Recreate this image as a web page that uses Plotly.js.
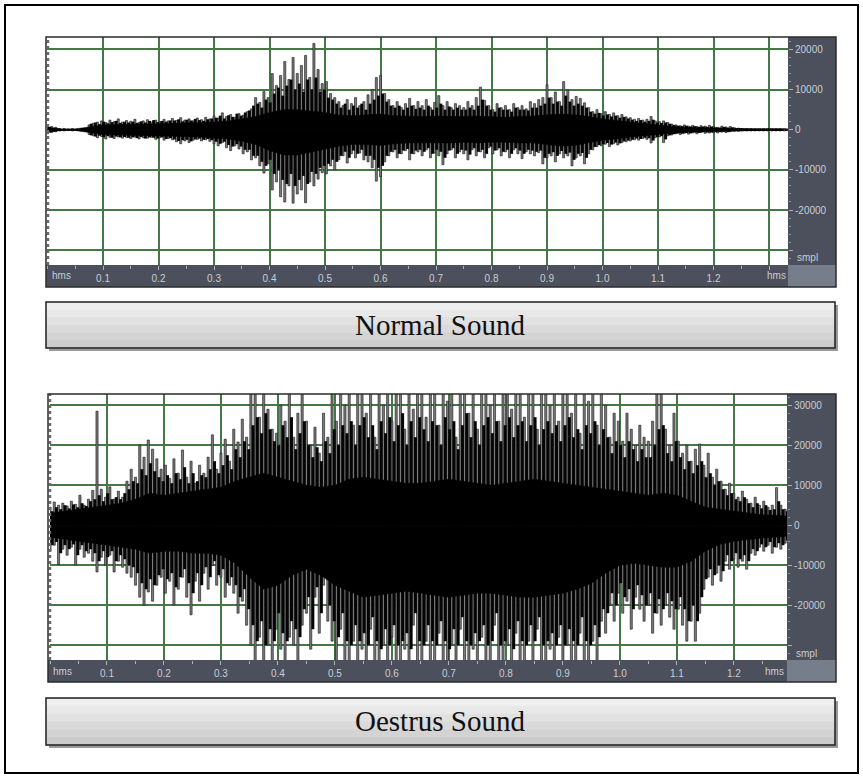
<!DOCTYPE html>
<html>
<head>
<meta charset="utf-8">
<script src="https://cdn.plot.ly/plotly-3.0.1.min.js"></script>
<style>html,body{margin:0;padding:0;background:#fff;}#chart{width:863px;height:778px;}</style>
</head>
<body>
<div id="chart"></div>
<script>
// ---------- DATA (amplitudes in thousands of sample units) ----------
// Normal sound: outer peak spikes every 0.0075 s, inner (dark) spikes in between, dense body every 0.025 s
const normalSpikeStep = 0.0075;
const normalSpikeHi = [
 1.0,0.8,0.6,0.3,0.3,0.2,0.3,0.2,0.3,0.3,
 1.2,1.6,1.9,2.2,1.8,2.4,2.0,2.7,1.9,2.3,
 2.1,2.6,1.8,2.2,2.5,1.9,2.4,2.0,2.6,2.2,
 2.8,2.3,3.0,2.4,2.7,2.2,2.9,2.5,3.1,2.7,
 3.4,2.9,4.2,3.3,3.8,3.1,4.0,3.6,4.5,5.2,
 8.0,6.8,9.5,8.0,14.0,11.0,13.5,17.0,12.5,18.0,
 14.0,16.0,18.5,13.0,21.5,15.0,11.5,12.0,9.0,8.0,
 7.0,6.0,7.5,6.5,8.0,6.0,7.0,8.7,10.0,13.0,
 13.5,9.0,7.5,6.0,7.0,5.5,6.5,7.8,6.0,7.0,
 6.0,7.5,5.5,6.8,8.5,6.0,7.0,5.5,6.5,6.0,
 5.5,7.0,6.0,8.0,10.6,7.3,6.0,5.0,6.5,5.5,
 6.0,5.0,6.5,5.5,6.0,5.2,7.0,6.5,7.5,8.0,
 11.2,8.0,9.4,7.0,12.0,9.9,7.5,8.3,7.8,6.7,
 5.5,4.5,5.0,4.0,4.5,3.8,4.2,3.5,3.8,3.2,
 3.0,2.6,2.8,2.4,2.6,3.3,2.2,2.0,2.2,1.8,
 1.4,1.2,1.0,1.2,0.9,1.1,0.8,1.0,0.9,1.1,
 0.8,0.6,0.9,0.7,0.8,0.5,0.4,0.3,0.3,0.3,
 0.3,0.3,0.3,0.3,0.3,0.3,0.3,0.3
];
const normalSpikeLo = [
 -1.0,-0.7,-0.5,-0.3,-0.3,-0.2,-0.3,-0.2,-0.3,-0.3,
 -1.2,-1.5,-2.0,-1.7,-2.3,-1.9,-2.2,-1.8,-2.1,-1.9,
 -2.2,-1.8,-2.3,-2.0,-2.1,-1.9,-2.4,-2.0,-2.6,-2.2,
 -2.5,-3.0,-3.5,-2.8,-3.2,-2.6,-2.4,-2.8,-2.5,-2.9,
 -3.5,-4.0,-3.2,-4.5,-5.2,-4.0,-4.8,-6.0,-5.5,-7.5,
 -7.0,-9.0,-10.8,-8.5,-15.0,-13.0,-16.7,-18.0,-14.0,-18.3,
 -16.0,-15.0,-18.2,-13.0,-14.0,-12.3,-10.7,-11.0,-9.0,-10.0,
 -7.5,-6.5,-8.3,-6.0,-7.0,-5.8,-7.5,-8.0,-9.5,-12.8,
 -11.7,-8.0,-6.5,-5.5,-7.0,-6.0,-5.2,-7.5,-6.0,-5.5,
 -6.5,-5.0,-7.0,-5.8,-6.5,-8.7,-6.0,-5.0,-7.0,-5.5,
 -6.0,-7.5,-5.0,-6.5,-5.5,-7.0,-4.5,-6.0,-5.0,-6.5,
 -5.5,-7.0,-5.0,-6.0,-7.2,-5.5,-6.0,-6.5,-5.7,-8.5,
 -7.0,-6.5,-8.0,-6.0,-7.0,-6.5,-9.0,-7.0,-6.5,-8.5,
 -6.0,-5.0,-4.2,-4.0,-3.6,-4.2,-3.5,-3.8,-3.2,-3.0,
 -2.8,-2.5,-2.6,-2.2,-2.4,-3.3,-2.0,-1.8,-3.2,-1.5,
 -1.3,-1.0,-1.2,-0.9,-1.1,-0.8,-1.0,-0.7,-0.9,-0.8,
 -0.7,-0.8,-0.6,-0.7,-0.5,-0.4,-0.4,-0.3,-0.3,-0.3,
 -0.3,-0.3,-0.3,-0.3,-0.3,-0.3,-0.3,-0.3
];
const normalInnerHi = [
 0.7,0.5,0.3,0.2,0.2,0.2,0.2,0.2,0.2,0.5,
 1.5,1.8,1.4,2.0,1.6,1.9,2.2,1.7,2.0,1.8,
 2.0,1.7,2.1,1.8,2.2,2.4,1.9,2.2,2.0,2.3,
 2.3,2.6,2.1,2.5,2.3,2.7,2.4,2.2,2.6,2.8,
 3.0,3.5,2.8,3.6,3.2,4.0,3.5,4.3,4.8,6.0,
 6.5,5.5,7.5,6.8,9.0,10.5,8.5,11.0,12.5,10.0,
 11.5,9.5,12.5,10.0,13.0,9.5,10.0,8.0,7.5,6.5,
 5.5,6.5,5.0,6.0,5.5,6.5,5.0,6.5,7.5,8.5,
 9.0,7.0,6.0,5.5,6.0,5.0,5.5,6.0,5.2,5.5,
 5.0,6.0,5.0,5.5,6.5,5.0,5.8,5.0,5.5,5.0,
 5.0,5.5,5.0,6.0,7.5,6.0,5.0,4.5,5.5,5.0,
 5.0,4.5,5.5,5.0,5.0,4.8,5.5,5.5,6.0,6.5,
 8.0,6.5,7.0,6.0,8.5,7.0,6.0,6.5,6.0,5.5,
 4.5,4.0,4.2,3.5,3.8,3.3,3.5,3.0,3.2,2.8,
 2.5,2.2,2.4,2.0,2.2,2.5,1.8,1.7,1.8,1.5,
 1.2,1.0,0.9,1.0,0.8,0.9,0.7,0.8,0.7,0.8,
 0.6,0.5,0.7,0.5,0.6,0.4,0.35,0.3,0.3,0.3,
 0.3,0.3,0.3,0.3,0.3,0.3,0.3,0.3
];
const normalInnerLo = [
 -0.7,-0.5,-0.3,-0.2,-0.2,-0.2,-0.2,-0.2,-0.2,-0.5,
 -1.4,-1.7,-1.5,-1.9,-1.6,-2.0,-1.7,-1.9,-1.8,-2.0,
 -1.9,-2.1,-1.8,-2.2,-1.9,-2.0,-2.2,-1.9,-2.3,-2.1,
 -2.4,-2.8,-2.6,-2.5,-2.9,-2.4,-2.2,-2.5,-2.3,-2.6,
 -3.0,-3.5,-3.0,-3.8,-4.2,-3.6,-4.2,-5.0,-5.0,-6.5,
 -6.5,-8.0,-9.0,-7.5,-11.0,-10.0,-12.5,-13.5,-11.0,-14.0,
 -12.5,-11.5,-13.5,-10.5,-11.0,-9.5,-9.0,-8.5,-7.5,-8.0,
 -6.5,-5.5,-7.0,-5.2,-6.0,-5.0,-6.5,-6.5,-7.5,-9.5,
 -9.0,-6.5,-5.5,-5.0,-6.0,-5.2,-4.8,-6.0,-5.2,-5.0,
 -5.5,-4.6,-6.0,-5.0,-5.5,-7.0,-5.2,-4.6,-6.0,-5.0,
 -5.2,-6.2,-4.6,-5.5,-5.0,-6.0,-4.2,-5.2,-4.6,-5.5,
 -5.0,-6.0,-4.6,-5.2,-6.0,-5.0,-5.2,-5.5,-5.2,-7.0,
 -6.0,-5.6,-6.5,-5.3,-6.0,-5.7,-7.5,-6.0,-5.8,-7.0,
 -5.0,-4.3,-3.8,-3.6,-3.3,-3.7,-3.2,-3.4,-2.9,-2.7,
 -2.5,-2.2,-2.3,-2.0,-2.1,-2.7,-1.8,-1.6,-2.4,-1.4,
 -1.1,-0.9,-1.0,-0.8,-0.9,-0.7,-0.8,-0.6,-0.7,-0.7,
 -0.6,-0.6,-0.5,-0.6,-0.4,-0.35,-0.35,-0.3,-0.3,-0.3,
 -0.3,-0.3,-0.3,-0.3,-0.3,-0.3,-0.3,-0.3
];
const normalBodyStep = 0.025;
const normalBodyHi = [
 0.6,0.2,0.2,0.7,1.2,1.3,1.3,1.4,1.5,1.6,
 1.7,1.7,1.9,2.2,2.7,3.3,4.3,5.0,5.0,4.7,
 4.3,3.6,3.5,3.7,3.9,3.5,3.4,3.3,3.4,3.3,
 3.3,3.4,3.3,3.1,3.3,3.4,3.7,3.9,3.7,3.3,
 2.7,2.3,1.9,1.6,1.2,0.8,0.6,0.5,0.4,0.3,
 0.25,0.2,0.2,0.2
];
const normalBodyLo = [
 -0.6,-0.2,-0.2,-0.7,-1.2,-1.3,-1.4,-1.5,-1.5,-1.7,
 -1.8,-1.8,-2.1,-2.3,-2.9,-3.7,-5.2,-6.3,-6.3,-5.6,
 -4.8,-4.1,-3.7,-3.7,-3.9,-3.5,-3.3,-3.3,-3.4,-3.3,
 -3.1,-3.3,-3.1,-3.1,-3.3,-3.3,-3.7,-4.1,-3.9,-3.3,
 -2.6,-2.3,-1.8,-1.5,-1.2,-0.8,-0.6,-0.5,-0.4,-0.3,
 -0.25,-0.2,-0.2,-0.2
];

// Oestrus sound
const oestrusSpikeStep = 0.0075;
const oestrusSpikeHi = [
 4.5,5.8,5.0,5.5,4.8,6.0,5.2,7.5,5.0,6.5,
 8.7,28.5,9.0,7.0,9.6,6.5,8.5,7.0,11.0,14.0,
 12.0,20.0,17.0,21.3,19.0,16.6,14.0,15.0,11.7,16.6,
 13.0,18.8,12.0,16.0,10.5,15.0,13.0,17.0,22.6,14.0,
 18.0,21.5,16.0,24.0,20.8,26.5,22.0,34,34,27.0,
 34,29.0,24.0,23.0,30.0,26.0,34,22.0,28.0,34,
 26.0,20.0,24.5,18.0,28.0,22.0,34,26.0,34,30.0,
 34,25.0,34,34,28.0,34,22.0,34,30.0,34,
 26.0,34,34,24.0,34,29.0,34,34,27.0,34,
 34,25.0,34,31.0,34,22.0,34,34,28.0,34,
 24.0,34,34,30.0,34,26.0,34,34,29.0,34,
 34,27.0,34,34,24.0,34,34,30.0,34,26.0,
 34,34,28.0,34,23.0,34,31.0,34,25.0,34,
 30.0,22.0,28.0,26.0,21.0,28.0,24.0,20.0,25.0,22.0,
 21.0,26.0,34,34,24.0,20.0,28.0,21.0,18.0,20.0,
 16.0,19.0,20.3,15.0,18.0,12.0,14.0,11.0,9.0,10.5,
 8.0,7.0,8.5,6.5,5.5,7.0,5.0,6.0,4.5,5.0,
 9.4,5.0,4.0
];
const oestrusSpikeLo = [
 -6.5,-5.0,-9.8,-6.0,-7.5,-5.5,-10.0,-6.0,-8.0,-7.0,
 -9.0,-11.7,-8.0,-10.0,-7.5,-11.7,-9.0,-10.5,-12.0,-13.0,
 -15.0,-18.0,-20.0,-16.7,-19.0,-15.0,-13.0,-17.0,-14.0,-20.0,
 -16.0,-13.0,-18.0,-22.4,-14.0,-19.0,-12.0,-16.0,-10.0,-15.0,
 -13.0,-18.0,-15.0,-17.0,-22.0,-19.0,-25.0,-30.0,-34,-28.0,
 -34,-30.0,-34,-26.0,-31.0,-34,-28.0,-30.0,-34,-25.0,
 -22.0,-31.0,-18.0,-27.0,-15.0,-24.0,-29.0,-34,-26.0,-34,
 -34,-29.0,-34,-31.0,-34,-26.0,-34,-34,-30.0,-34,
 -28.0,-34,-34,-31.0,-34,-25.0,-34,-34,-29.0,-34,
 -34,-27.0,-34,-34,-30.0,-34,-26.0,-34,-34,-31.0,
 -34,-28.0,-34,-34,-25.0,-34,-34,-30.0,-34,-27.0,
 -34,-34,-29.0,-34,-26.0,-34,-34,-31.0,-34,-28.0,
 -34,-30.0,-34,-34,-27.0,-34,-34,-29.0,-34,-24.0,
 -27.0,-20.0,-24.0,-17.0,-22.0,-19.0,-26.0,-18.0,-21.0,-24.0,
 -20.0,-27.0,-22.0,-25.0,-20.0,-23.0,-26.0,-21.0,-25.0,-29.0,
 -24.0,-29.0,-22.0,-16.0,-13.0,-15.0,-12.0,-14.0,-9.0,-11.0,
 -8.5,-10.5,-9.0,-11.0,-7.0,-7.5,-5.5,-6.5,-5.0,-7.0,
 -5.5,-6.0,-4.5
];
const oestrusInnerHi = [
 3.5,4.5,4.0,5.0,4.2,5.2,4.5,5.5,4.8,6.0,
 6.5,7.5,6.0,8.0,6.5,7.0,6.5,8.0,9.0,11.0,
 10.5,14.0,12.5,15.5,13.5,12.0,11.0,12.5,10.5,13.0,
 11.5,14.5,10.5,13.0,11.0,12.5,12.0,14.0,16.0,13.0,
 15.0,17.5,14.0,19.0,17.0,21.0,19.0,25.0,27.0,23.0,
 28.0,24.0,21.0,20.0,25.0,22.0,27.0,19.0,23.0,26.0,
 20.0,17.0,19.5,16.0,21.0,18.0,24.0,20.0,25.0,23.0,
 26.0,20.0,25.0,27.0,22.0,25.0,19.0,26.0,23.0,27.0,
 21.0,25.0,28.0,20.0,26.0,22.0,27.0,24.0,21.0,26.0,
 25.0,20.0,27.0,24.0,26.0,19.0,25.0,28.0,22.0,26.0,
 20.0,25.0,27.0,23.0,26.0,21.0,25.0,27.0,22.0,25.0,
 26.0,21.0,25.0,27.0,20.0,24.0,26.0,23.0,25.0,21.0,
 25.0,27.0,22.0,24.0,19.0,25.0,23.0,26.0,20.0,24.0,
 22.0,18.0,21.0,20.0,17.0,21.0,19.0,16.0,19.0,17.0,
 17.0,20.0,24.0,25.0,18.0,16.0,21.0,17.0,14.0,16.0,
 13.0,15.0,16.0,12.0,13.0,10.0,11.0,9.0,7.5,8.0,
 6.5,6.0,7.0,5.5,4.5,5.5,4.2,5.0,3.8,4.0,
 6.0,4.0,3.5
];
const oestrusInnerLo = [
 -5.0,-4.2,-7.0,-5.0,-6.0,-4.8,-7.5,-5.0,-6.5,-6.0,
 -7.0,-9.0,-6.5,-8.0,-6.5,-9.0,-7.5,-8.5,-10.0,-10.5,
 -12.0,-14.5,-16.0,-13.5,-15.0,-12.5,-11.0,-13.5,-12.0,-15.5,
 -13.0,-11.0,-14.5,-17.0,-12.0,-15.0,-10.5,-13.0,-9.0,-12.5,
 -11.0,-14.5,-13.0,-15.0,-18.0,-16.0,-21.0,-25.0,-29.0,-24.0,
 -30.0,-26.0,-29.0,-22.0,-27.0,-29.0,-24.0,-26.0,-28.0,-21.0,
 -18.0,-26.0,-15.5,-22.0,-13.0,-20.0,-24.0,-28.0,-22.0,-29.0,
 -30.0,-25.0,-29.0,-27.0,-30.0,-23.0,-29.0,-31.0,-26.0,-30.0,
 -25.0,-30.0,-29.0,-27.0,-31.0,-22.0,-29.0,-30.0,-25.0,-29.0,
 -30.0,-24.0,-29.0,-31.0,-26.0,-30.0,-23.0,-29.0,-30.0,-27.0,
 -29.0,-25.0,-30.0,-29.0,-22.0,-30.0,-29.0,-26.0,-31.0,-24.0,
 -29.0,-30.0,-25.0,-29.0,-23.0,-30.0,-29.0,-27.0,-30.0,-25.0,
 -30.0,-26.0,-29.0,-30.0,-23.0,-29.0,-30.0,-25.0,-28.0,-21.0,
 -22.0,-17.0,-20.0,-14.5,-18.0,-16.0,-21.0,-15.0,-17.5,-20.0,
 -17.0,-22.0,-18.5,-21.0,-17.0,-19.0,-21.0,-18.0,-21.0,-24.0,
 -20.0,-24.0,-18.0,-13.5,-11.0,-12.5,-10.0,-11.5,-7.5,-9.0,
 -7.0,-8.5,-7.5,-9.0,-6.0,-6.5,-4.8,-5.5,-4.2,-5.5,
 -4.5,-5.0,-3.8
];
const oestrusBodyStep = 0.025;
const oestrusBodyHi = [
 3.0,3.5,4.0,4.5,5.0,5.5,6.5,8.0,7.5,8.0,
 8.5,9.0,9.5,11.0,12.0,13.0,12.0,11.0,10.0,9.5,
 10.0,11.5,12.0,11.5,11.0,10.5,10.5,11.0,11.5,11.0,
 10.5,10.0,10.5,11.0,11.5,11.0,10.5,10.0,9.5,9.0,
 8.5,8.0,7.5,8.0,7.5,6.0,4.5,4.0,3.5,3.0,
 2.6,2.5,2.2
];
const oestrusBodyLo = [
 -3.0,-3.5,-4.0,-4.5,-5.0,-5.5,-6.0,-7.0,-6.5,-6.5,
 -7.0,-7.0,-7.5,-9.5,-13.0,-16.0,-15.0,-12.5,-11.0,-12.5,
 -15.0,-16.5,-18.0,-17.5,-17.0,-16.5,-17.0,-17.5,-18.0,-17.5,
 -17.0,-17.0,-17.5,-18.0,-18.0,-17.5,-17.0,-16.0,-14.5,-12.0,
 -10.0,-9.5,-10.0,-10.5,-10.5,-9.0,-6.5,-4.8,-4.0,-3.6,
 -3.2,-3.0,-2.6
];

// Tick labels
const timeTicks = [0.1,0.2,0.3,0.4,0.5,0.6,0.7,0.8,0.9,1.0,1.1,1.2];
const timeTickText = ['0.1','0.2','0.3','0.4','0.5','0.6','0.7','0.8','0.9','1.0','1.1','1.2'];
const ampTicks = [-30,-20,-10,0,10,20,30];
const ampTickText = ['','-20000','-10000','0','10000','20000','30000'];
const panelTitles = ['Normal Sound','Oestrus Sound'];

// ---------- STYLE / LAYOUT ----------
const W = 863, H = 778;
const PX = x => x / W;
const PY = y => 1 - y / H;
const strip = '#4b505c', corner = '#767d8b', labelCol = '#c9cdd4';
const gridCol = '#467746';

function waveTraces(xa, ya, sStep, sHi, sLo, iHi, iLo, bStep, bHi, bLo) {
  const spikeStyle = {color:'#7a7a7a', line:{color:'#161616', width:0.6}};
  const innerStyle = {color:'#050505', line:{width:0}};
  const common = {xaxis:xa, yaxis:ya, hoverinfo:'skip', showlegend:false};
  return [
    Object.assign({type:'bar', x0:0, dx:sStep, y:sHi, width:sStep*0.5, marker:spikeStyle}, common),
    Object.assign({type:'bar', x0:0, dx:sStep, y:sLo, width:sStep*0.5, marker:spikeStyle}, common),
    Object.assign({type:'bar', x0:sStep/2, dx:sStep, y:iHi, width:sStep*0.7, marker:innerStyle}, common),
    Object.assign({type:'bar', x0:sStep/2, dx:sStep, y:iLo, width:sStep*0.7, marker:innerStyle}, common),
    Object.assign({type:'scatter', mode:'lines', x0:0, dx:bStep, y:bHi, fill:'tozeroy', fillcolor:'#000', line:{color:'#000', width:0.5}}, common),
    Object.assign({type:'scatter', mode:'lines', x0:0, dx:bStep, y:bLo, fill:'tozeroy', fillcolor:'#000', line:{color:'#000', width:0.5}}, common)
  ];
}

const data = [].concat(
  waveTraces('x','y', normalSpikeStep, normalSpikeHi, normalSpikeLo, normalInnerHi, normalInnerLo, normalBodyStep, normalBodyHi, normalBodyLo),
  waveTraces('x2','y2', oestrusSpikeStep, oestrusSpikeHi, oestrusSpikeLo, oestrusInnerHi, oestrusInnerLo, oestrusBodyStep, oestrusBodyHi, oestrusBodyLo)
);

const tickFont = {family:'Liberation Sans, Arial, sans-serif', size:10, color:labelCol};
function xAxis(domain, range, anchor, vals, text) {
  return {domain, range, anchor, tickvals:vals, ticktext:text, showgrid:true, gridcolor:gridCol, gridwidth:2,
    zeroline:false, ticks:'outside', ticklen:4, tickcolor:'#aeb3bc', tickwidth:1, tickfont:tickFont,
    minor:{dtick:0.05, tick0:0, ticks:'outside', ticklen:3, tickcolor:'#aeb3bc', showgrid:false},
    showline:false, fixedrange:true};
}
function yAxis(domain, range, anchor) {
  return {domain, range, anchor, side:'right', tickvals:ampTicks, ticktext:ampTickText, showgrid:true,
    gridcolor:gridCol, gridwidth:2, zeroline:true, zerolinecolor:'#6a1616', zerolinewidth:1,
    ticks:'outside', ticklen:4, tickcolor:'#aeb3bc', tickfont:tickFont,
    minor:{dtick:2, ticks:'outside', ticklen:2, tickcolor:'#8d939e', showgrid:false},
    showline:false, fixedrange:true};
}

const shapes = [];
function rect(x0,y0,x1,y1,fill,lineCol,lw){
  shapes.push({type:'rect', xref:'paper', yref:'paper', x0:PX(x0), x1:PX(x1), y0:PY(y1), y1:PY(y0),
    fillcolor:fill||'rgba(0,0,0,0)', line:{color:lineCol||'rgba(0,0,0,0)', width:lw||0}, layer:'below'});
}
function panelFrame(l,t,pr,pb,r,b){
  rect(pr,t,r,pb,strip);
  rect(l,pb,pr,b,strip);
  rect(pr,pb,r,b,corner);
  shapes.push({type:'line', xref:'paper', yref:'paper', x0:PX(l+2), x1:PX(l+2), y0:PY(pb), y1:PY(t),
    line:{color:'#6a6a6a', width:2.5, dash:'dot'}, layer:'above'});
  shapes.push({type:'rect', xref:'paper', yref:'paper', x0:PX(l), x1:PX(r), y0:PY(b), y1:PY(t),
    fillcolor:'rgba(0,0,0,0)', line:{color:'#2b2b2b', width:1.5}, layer:'above'});
}
function labelBox(l,t,r,b){
  rect(l+3,t+3,r+3,b+3,'#9a9a9a');
  const bands = ['#f0f0f0','#e8e8e8','#e1e1e1','#dadada','#d3d3d3','#cbcbcb'];
  const h = (b-t)/bands.length;
  bands.forEach((c,i)=>rect(l, t+i*h, r, t+(i+1)*h+0.6, c));
  rect(l,t,r,b,null,'#1e1e1e',1.5);
}

panelFrame(46,37,788,265,836,287);
panelFrame(48,394,787,660,836,682);
labelBox(46,302,835,348);
labelBox(46,698,835,745);
shapes.push({type:'rect', xref:'paper', yref:'paper', x0:PX(5), x1:PX(858), y0:PY(773), y1:PY(5),
  fillcolor:'rgba(0,0,0,0)', line:{color:'#000', width:2}, layer:'above'});

const smallFont = {family:'Liberation Sans, Arial, sans-serif', size:10, color:labelCol};
const titleFont = {family:'Liberation Serif, Times New Roman, serif', size:29, color:'#111'};
function ann(text,x,y,font,xanchor){
  return {text, x:PX(x), y:PY(y), xref:'paper', yref:'paper', showarrow:false, font, xanchor:xanchor||'center', yanchor:'middle'};
}
const annotations = [
  ann('hms',61,276,smallFont), ann('hms',776,276,smallFont), ann('smpl',795,257,smallFont,'left'),
  ann('hms',62,671,smallFont), ann('hms',774,671,smallFont), ann('smpl',794,653,smallFont,'left'),
  ann(panelTitles[0],440,325,titleFont), ann(panelTitles[1],440,721,titleFont)
];

const layout = {
  width:W, height:H, margin:{l:0,r:0,t:0,b:0},
  paper_bgcolor:'#ffffff', plot_bgcolor:'#ffffff',
  showlegend:false, barmode:'overlay', hovermode:false,
  xaxis: xAxis([PX(47),PX(788)], [-0.0009,1.3342], 'y', timeTicks.concat([1.3]), timeTickText.concat([''])),
  yaxis: yAxis([PY(265),PY(37)], [-33.7,23.1], 'x'),
  xaxis2: xAxis([PX(50),PX(787)], [0,1.2933], 'y2', timeTicks, timeTickText),
  yaxis2: yAxis([PY(660),PY(394)], [-33.7,32.8], 'x2'),
  shapes, annotations
};

Plotly.newPlot('chart', data, layout, {staticPlot:true, displayModeBar:false});
</script>
</body>
</html>
